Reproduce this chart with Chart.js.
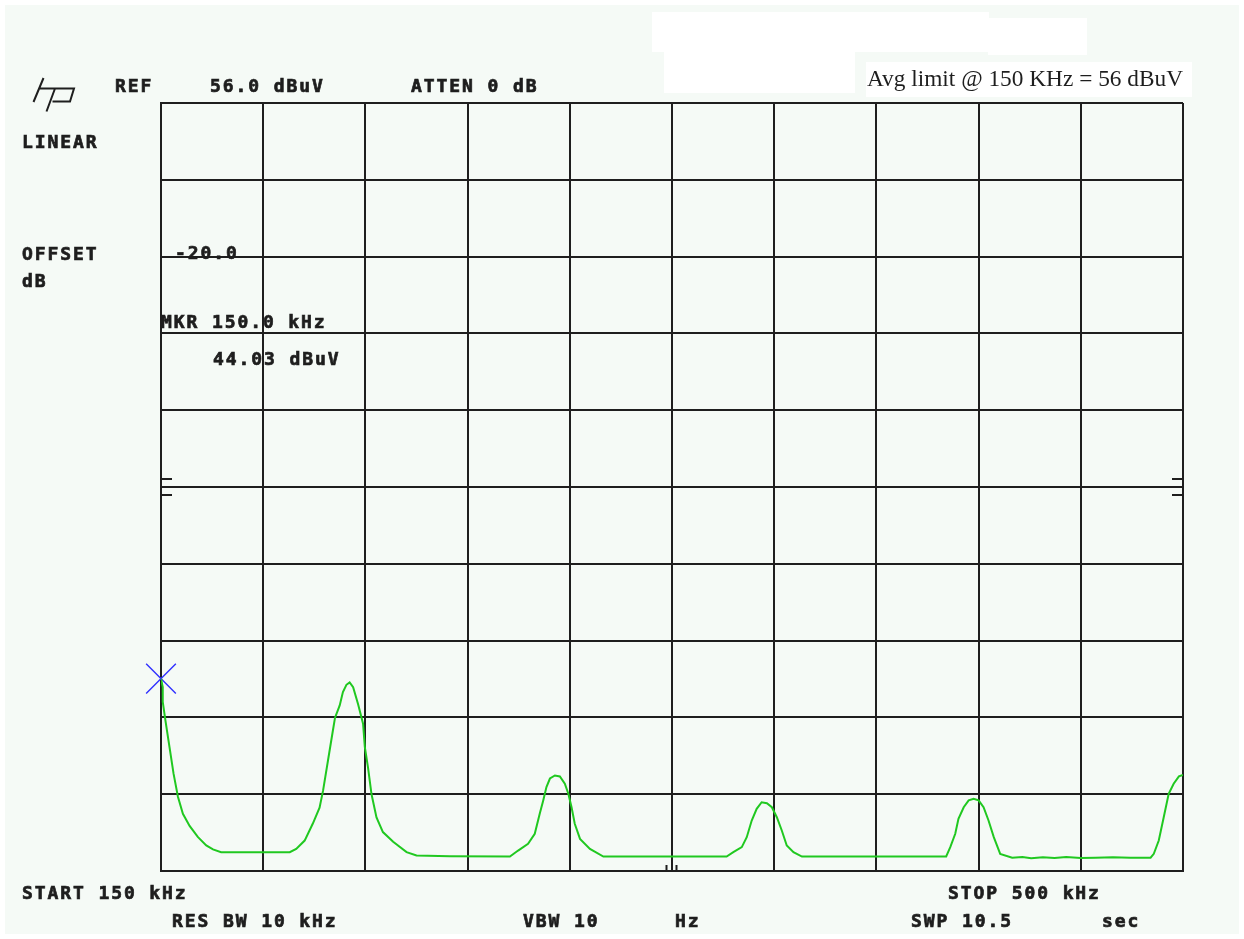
<!DOCTYPE html>
<html>
<head>
<meta charset="utf-8">
<script src="https://cdn.jsdelivr.net/npm/chart.js@4"></script>
<style>
  html, body { margin: 0; padding: 0; background: #ffffff; }
  canvas { display: block; }
</style>
</head>
<body>
<canvas id="specChart" width="1244" height="939"></canvas>
<script>
// sweep 150 kHz .. 500 kHz, 35 kHz/div, linear scale, REF 56.0 dBuV (= 631 uV) at top
var startFreq = 150;
var stopFreq = 500;
var freqStep = 35;
var refLevel = 631; // uV at the top line
var divisions = 10;

// trace: frequency (kHz) and level (uV)
var freqs = [150, 150.6, 150.6, 151.5, 152.9, 154.3, 155.8, 157.5, 159.8, 162.6, 165.5, 167.8, 170.6,
  194.1, 196.3, 199.2, 202.0, 204.3, 205.5, 207.2, 208.7, 209.6, 211.2, 212.3, 213.5, 214.6, 215.8,
  217.5, 219.2, 219.8, 220.9, 222.1, 223.8, 226.0, 229.5, 234.1, 237.5, 248.9,
  269.5, 272.3, 275.7, 278.0, 279.7, 280.9, 282.0, 283.2, 284.9, 286.6, 288.3, 289.5, 290.6, 291.7,
  293.5, 296.9, 301.5,
  343.7, 346.0, 348.9, 350.6, 352.3, 354.0, 355.7, 357.5, 359.2, 360.9, 362.6, 364.3, 366.6, 369.5,
  418.9, 420.3, 422.0, 423.1, 424.9, 426.6, 428.3, 430.0, 431.7, 433.4, 435.2, 437.4, 441.5,
  445, 448, 452, 456, 460, 465, 470, 476, 482, 488.9,
  490.0, 491.7, 493.4, 495.1, 496.8, 498.6, 500];
var levels = [158, 151, 139, 124, 102, 80, 61, 47, 37, 28, 21, 17.7, 15.5,
  15.5, 18.2, 25, 39, 52, 66, 91, 113, 126, 136, 147, 153, 155, 151,
  137, 121, 102, 85, 63, 44, 32, 24, 15.5, 12.7, 12.2,
  11.9, 16.8, 22.3, 30.6, 47, 58, 69, 76, 78.5, 77.7, 71.7, 63.5, 52.4, 38.8,
  26.4, 18.2, 11.9,
  11.9, 15.5, 19.6, 27.8, 41.5, 51.1, 56.5, 55.7, 52.4, 44.2, 33.3, 21, 15.5, 11.9,
  11.9, 19.6, 30.6, 42.9, 52.4, 58, 59.4, 58, 52.4, 41.5, 27.8, 14.1, 10.9,
  11.5, 10.5, 11.2, 10.6, 11.4, 10.7, 10.9, 11.3, 10.8, 10.9,
  14.1, 25, 44.2, 63.5, 71.7, 77.7, 78.9];

// marker
var markerFreq = 150;
var markerLevel = 158;

var tracePoints = freqs.map(function (f, i) { return { x: f, y: levels[i] }; });

var ink = '#1e1e1e';
var mono = 'bold 18px "DejaVu Sans Mono"';

var screenDecor = {
  id: 'screenDecor',
  beforeDraw: function (chart) {
    var c = chart.ctx;
    c.save();
    c.fillStyle = '#ffffff';
    c.fillRect(0, 0, chart.width, chart.height);
    c.fillStyle = '#f5faf6';
    c.fillRect(5, 5, chart.width - 10, chart.height - 10);
    // blanked-out patches at the top
    c.fillStyle = '#ffffff';
    c.fillRect(652, 12, 337, 40);
    c.fillRect(988, 18, 99, 37);
    c.fillRect(664, 52, 191, 41);
    c.fillRect(866, 62, 326, 35);
    c.restore();
  },
  afterDraw: function (chart) {
    var c = chart.ctx;
    var xs = chart.scales.x, ys = chart.scales.y;
    c.save();

    // small hash marks at the centre lines
    c.strokeStyle = ink;
    c.lineWidth = 2;
    var midY = ys.getPixelForValue(refLevel / 2);
    var area = chart.chartArea;
    c.beginPath();
    [-8, 8].forEach(function (d) {
      c.moveTo(area.left, midY + d); c.lineTo(area.left + 11, midY + d);
      c.moveTo(area.right, midY + d); c.lineTo(area.right - 11, midY + d);
    });
    var midX = xs.getPixelForValue((startFreq + stopFreq) / 2);
    [-5.5, 4.5].forEach(function (d) {
      c.moveTo(midX + d, area.bottom); c.lineTo(midX + d, area.bottom - 6);
    });
    c.stroke();

    // hp logo
    c.lineWidth = 2;
    c.beginPath();
    c.moveTo(43.5, 78); c.lineTo(33.5, 102);
    c.moveTo(39.5, 88.5); c.lineTo(74, 88.5);
    c.lineTo(70, 101.5); c.lineTo(52.5, 101.5);
    c.moveTo(55, 88.5); c.lineTo(46.5, 111.5);
    c.stroke();

    // annunciators
    c.fillStyle = ink;
    c.strokeStyle = ink;
    c.lineWidth = 0.7;
    c.font = mono;
    c.letterSpacing = '1.9px';
    c.textBaseline = 'alphabetic';
    c.textAlign = 'left';
    var labels = [
      ['REF', 115, 92], ['56.0 dBuV', 210, 92], ['ATTEN 0 dB', 411, 92],
      ['LINEAR', 22, 148],
      ['OFFSET', 22, 260], ['dB', 22, 287], ['-20.0', 175, 259],
      ['MKR 150.0 kHz', 161, 328], ['44.03 dBuV', 213, 365],
      ['START 150 kHz', 22, 899], ['STOP 500 kHz', 948, 899],
      ['RES BW 10 kHz', 172, 927], ['VBW 10', 523, 927], ['Hz', 675, 927],
      ['SWP 10.5', 911, 927], ['sec', 1102, 927]
    ];
    labels.forEach(function (l) {
      c.fillText(l[0], l[1], l[2]);
      c.strokeText(l[0], l[1], l[2]);
    });

    // pasted note
    c.letterSpacing = '0px';
    c.font = '23px "Liberation Serif"';
    var note = 'Avg limit @ 150 KHz = 56 dBuV';
    var w = c.measureText(note).width;
    c.translate(867, 86);
    c.scale(316 / w, 1);
    c.fillText(note, 0, 0);
    c.restore();
  }
};

new Chart(document.getElementById('specChart').getContext('2d'), {
  type: 'line',
  data: {
    datasets: [{
      label: 'trace',
      data: tracePoints,
      borderColor: '#20c820',
      borderWidth: 2,
      pointRadius: 0,
      tension: 0,
      fill: false
    }, {
      label: 'marker',
      data: [{ x: markerFreq, y: markerLevel }],
      showLine: false,
      pointStyle: 'crossRot',
      pointRadius: 21,
      pointBorderColor: '#3030ff',
      pointBorderWidth: 1.4,
      clip: false
    }]
  },
  options: {
    responsive: false,
    animation: false,
    events: [],
    layout: { padding: { left: 161, top: 103, right: 61, bottom: 68 } },
    plugins: { legend: { display: false }, tooltip: { enabled: false } },
    scales: {
      x: {
        type: 'linear',
        min: startFreq,
        max: stopFreq,
        ticks: { display: false, stepSize: freqStep },
        grid: { color: ink, lineWidth: 2, drawTicks: false },
        border: { display: true, color: ink, width: 2 }
      },
      y: {
        min: 0,
        max: refLevel,
        afterBuildTicks: function (scale) {
          var t = [];
          for (var i = 0; i <= divisions; i++) t.push({ value: refLevel * i / divisions });
          scale.ticks = t;
        },
        ticks: { display: false },
        grid: { color: ink, lineWidth: 2, drawTicks: false },
        border: { display: true, color: ink, width: 2 }
      }
    }
  },
  plugins: [screenDecor]
});
</script>
</body>
</html>
